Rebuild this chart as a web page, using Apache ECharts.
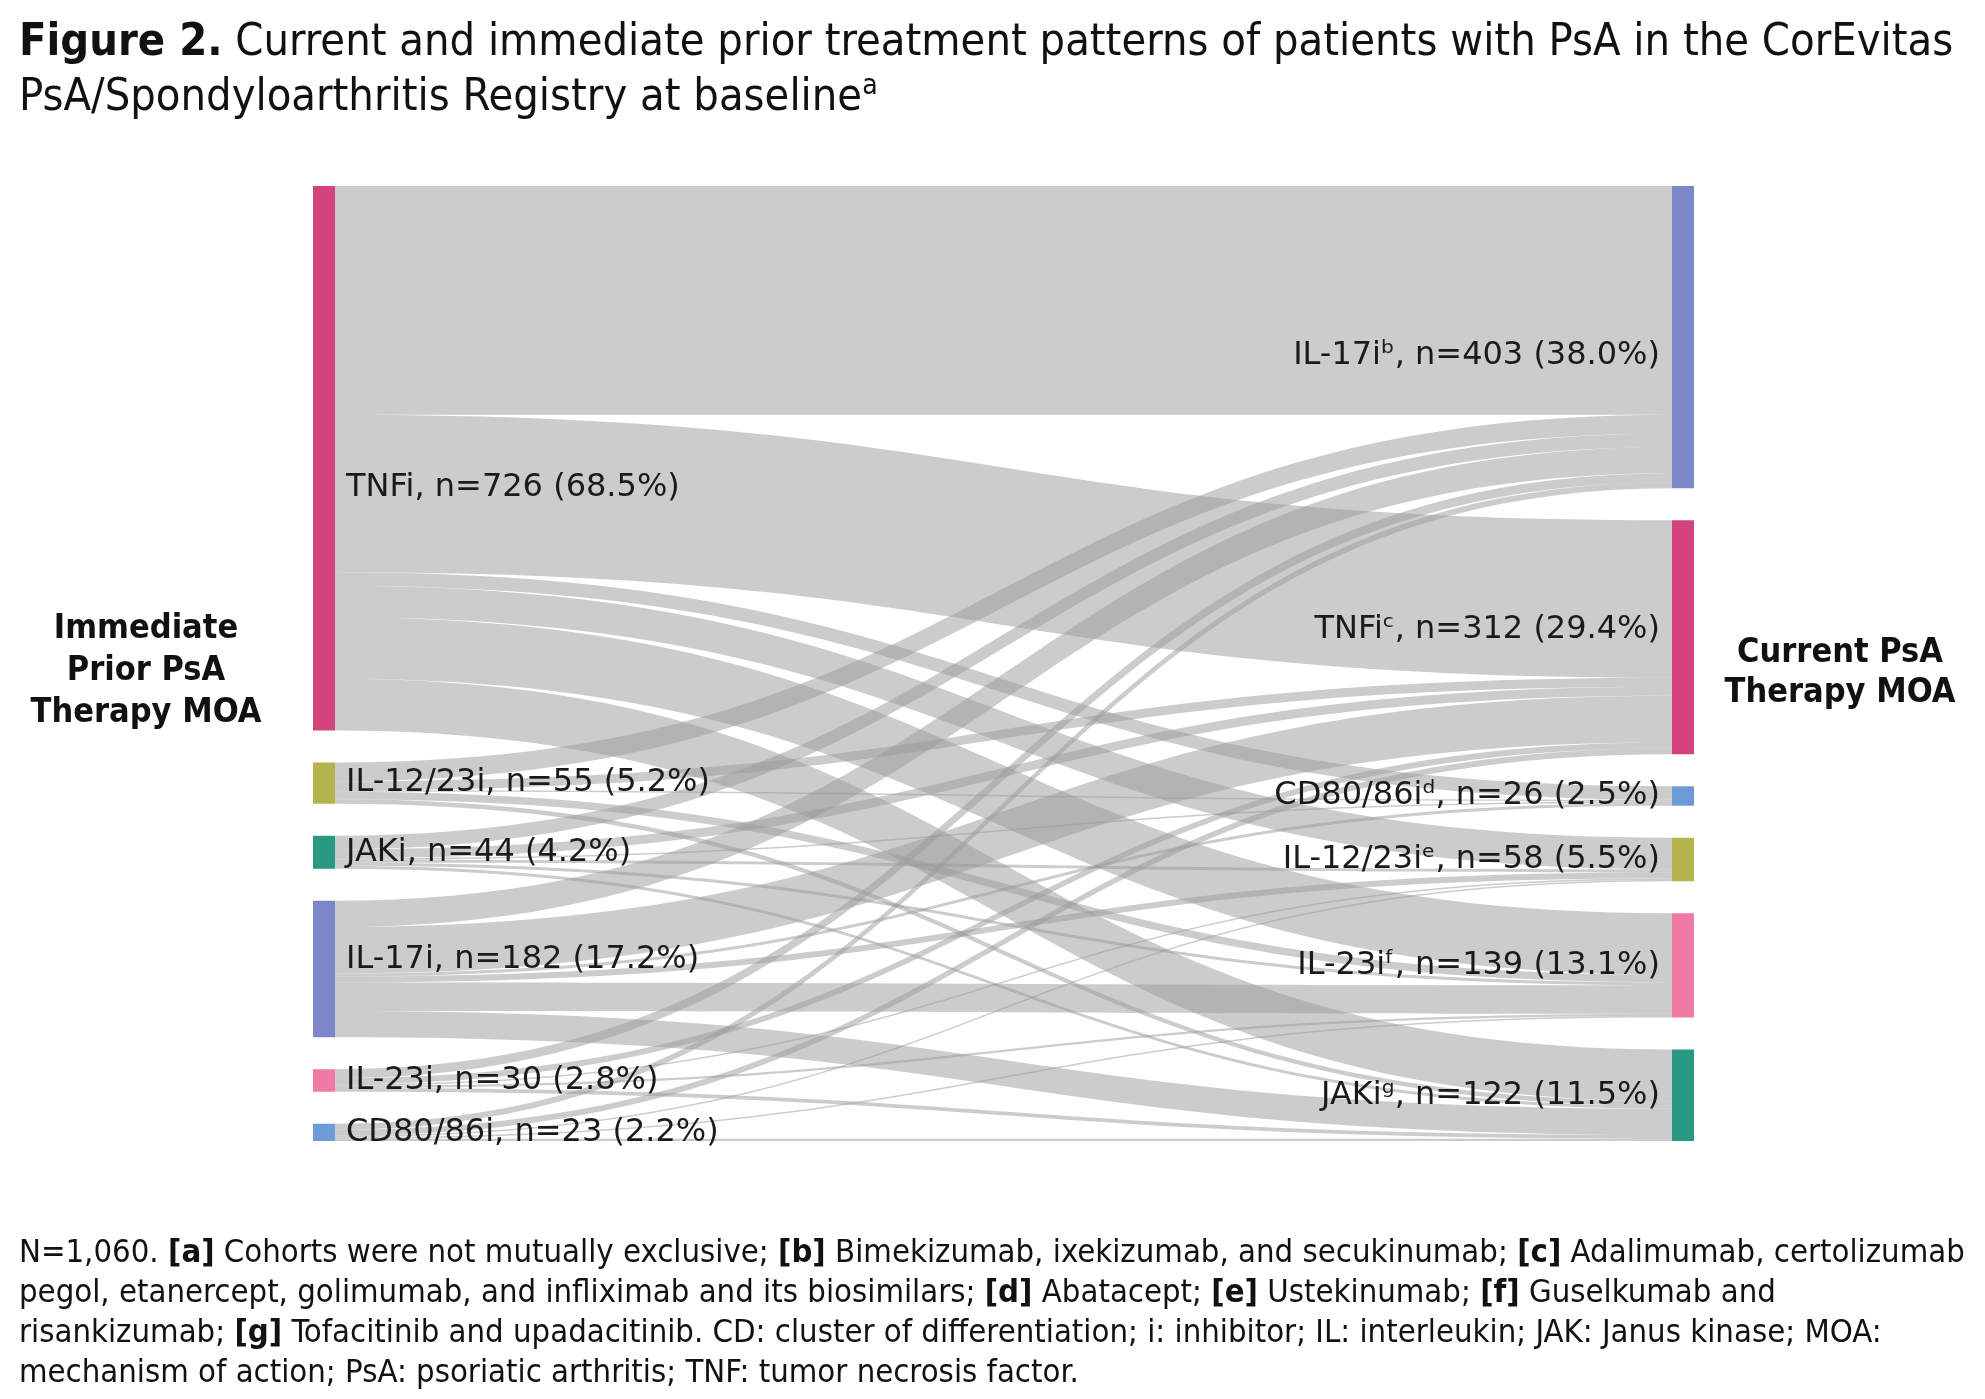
<!DOCTYPE html>
<html>
<head>
<meta charset="utf-8">
<script src="https://cdn.jsdelivr.net/npm/echarts@6/dist/echarts.min.js"></script>
<style>
html,body{margin:0;padding:0;background:#fff;width:1985px;height:1399px;overflow:hidden}
#chart{position:absolute;left:0;top:0;width:1985px;height:1399px}
#title{position:absolute;left:19px;top:12px;font-family:'DejaVu Sans Condensed','DejaVu Sans',sans-serif;font-size:44.8px;line-height:55px;color:#111;white-space:nowrap}
#foot{position:absolute;left:19px;top:1231px;font-family:'DejaVu Sans Condensed','DejaVu Sans',sans-serif;font-size:32.6px;line-height:40px;color:#111;white-space:nowrap}
b{font-weight:bold}
</style>
</head>
<body>
<div id="chart"></div>
<div id="title"><b>Figure 2.</b> Current and immediate prior treatment patterns of patients with PsA in the CorEvitas<br>PsA/Spondyloarthritis Registry at baseline<sup style="font-size:28px;vertical-align:16px;line-height:0">a</sup></div>
<div id="foot">N=1,060. <b>[a]</b> Cohorts were not mutually exclusive; <b>[b]</b> Bimekizumab, ixekizumab, and secukinumab; <b>[c]</b> Adalimumab, certolizumab<br>pegol, etanercept, golimumab, and infliximab and its biosimilars; <b>[d]</b> Abatacept; <b>[e]</b> Ustekinumab; <b>[f]</b> Guselkumab and<br>risankizumab; <b>[g]</b> Tofacitinib and upadacitinib. CD: cluster of differentiation; i: inhibitor; IL: interleukin; JAK: Janus kinase; MOA:<br>mechanism of action; PsA: psoriatic arthritis; TNF: tumor necrosis factor.</div>
<script>
// ---- data ----
const priorNames = ['TNFi', 'IL-12/23i', 'JAKi', 'IL-17i', 'IL-23i', 'CD80/86i'];
const priorN = [726, 55, 44, 182, 30, 23];
const priorPct = ['68.5', '5.2', '4.2', '17.2', '2.8', '2.2'];

const currentNames = ['IL-17i\u1D47', 'TNFi\u1D9C', 'CD80/86i\u1D48', 'IL-12/23i\u1D49', 'IL-23i\u1DA0', 'JAKi\u1D4D'];
const currentN = [403, 312, 26, 58, 139, 122];
const currentPct = ['38.0', '29.4', '2.5', '5.5', '13.1', '11.5'];

// flows from each prior MOA to current MOAs (order of currentNames), estimated from band widths
const flowFromTNFi   = [305, 210, 18, 42, 82, 69];
const flowFromIL1223 = [25, 12, 2, 0, 10, 6];
const flowFromJAKi   = [18, 12, 2, 4, 4, 4];
const flowFromIL17   = [35, 62, 4, 8, 38, 35];
const flowFromIL23   = [12, 8, 0, 2, 3, 5];
const flowFromCD80   = [8, 8, 0, 2, 2, 3];
const flows = [flowFromTNFi, flowFromIL1223, flowFromJAKi, flowFromIL17, flowFromIL23, flowFromCD80];

// ---- styles ----
const priorColors = ['#d4447c', '#b5b44c', '#2a9984', '#7b87c8', '#ef7aa4', '#6d9bd8'];
const currentColors = ['#7b87c8', '#d4447c', '#6d9bd8', '#b5b44c', '#ef7aa4', '#2a9984'];
const priorLabelShift = [29, 0, 0, -9, 0, 0];
const currentLabelShift = [19, -8, 0, 0, 0, 0];
const FONT = "'DejaVu Sans', Verdana, sans-serif";
const FONT_C = "'DejaVu Sans Condensed', 'DejaVu Sans', sans-serif";

const nodes = [];
priorNames.forEach((nm, i) => {
  nodes.push({
    name: 'P_' + i,
    itemStyle: { color: priorColors[i] },
    label: {
      position: 'right',
      distance: 11,
      offset: [0, priorLabelShift[i]],
      formatter: nm + ', n=' + priorN[i] + ' (' + priorPct[i] + '%)'
    }
  });
});
currentNames.forEach((nm, j) => {
  nodes.push({
    name: 'C_' + j,
    itemStyle: { color: currentColors[j] },
    label: {
      position: 'left',
      distance: 12,
      offset: [0, currentLabelShift[j]],
      formatter: nm + ', n=' + currentN[j] + ' (' + currentPct[j] + '%)'
    }
  });
});
const links = [];
flows.forEach((row, i) => {
  row.forEach((v, j) => {
    if (v > 0) links.push({ source: 'P_' + i, target: 'C_' + j, value: v });
  });
});

const chart = echarts.init(document.getElementById('chart'), null, { renderer: 'canvas' });
chart.setOption({
  backgroundColor: '#ffffff',
  animation: false,
  series: [{
    type: 'sankey',
    left: 313,
    right: 291,
    top: 186,
    bottom: 258,
    nodeWidth: 22,
    nodeGap: 32,
    layoutIterations: 0,
    draggable: false,
    data: nodes,
    links: links,
    itemStyle: { borderWidth: 0 },
    lineStyle: { color: '#999999', opacity: 0.5, curveness: 0.5 },
    label: { show: true, color: '#1a1a1a', fontSize: 32, fontFamily: FONT },
    emphasis: { disabled: true },
    silent: true
  }],
  graphic: [
    {
      type: 'text', x: 146, y: 671,
      style: {
        text: 'Immediate\nPrior PsA\nTherapy MOA',
        fontSize: 34, fontWeight: 'bold', fontFamily: FONT_C,
        fill: '#111', align: 'center', verticalAlign: 'middle', lineHeight: 42
      }
    },
    {
      type: 'text', x: 1840, y: 673,
      style: {
        text: 'Current PsA\nTherapy MOA',
        fontSize: 34, fontWeight: 'bold', fontFamily: FONT_C,
        fill: '#111', align: 'center', verticalAlign: 'middle', lineHeight: 40
      }
    }
  ]
});
</script>
</body>
</html>
